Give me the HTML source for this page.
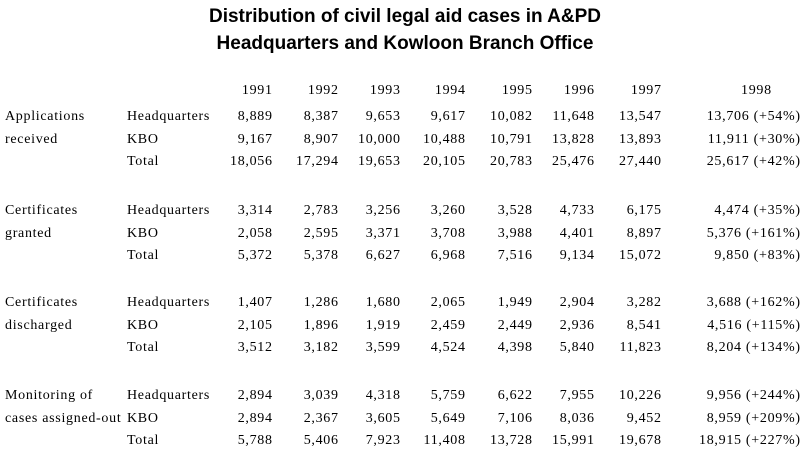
<!DOCTYPE html>
<html><head><style>
body{margin:0;width:810px;height:459px;background:#fff;position:relative;overflow:hidden}
.t{position:absolute;left:0;width:810px;text-align:center;font:bold 19px "Liberation Sans",sans-serif;color:#000}
.c{position:absolute;font:14px "Liberation Serif",serif;letter-spacing:0.7px;color:#000;white-space:nowrap;line-height:16px}
.r{text-align:right}
</style></head><body>
<div class="t" style="top:6px">Distribution of civil legal aid cases in A&amp;PD</div>
<div class="t" style="top:33px">Headquarters and Kowloon Branch Office</div>
<div id="g"></div>
<script>
var rights=[272,338,400,465,532,594,661,800];
var g=document.getElementById('g'),h='';
function cell(x,y,txt,right){if(right)x+=0.7;h+='<div class="c'+(right?' r':'')+'" style="'+(right?'right:'+(810-x):'left:'+x)+'px;top:'+(y-8)+'px">'+txt+'</div>';}
var yrs=['1991','1992','1993','1994','1995','1996','1997'];
for(var i=0;i<7;i++)cell(rights[i],91,yrs[i],1);
cell(741,91,'1998',0);
var blocks=[
[117,'Applications','received',[['8,889','8,387','9,653','9,617','10,082','11,648','13,547','13,706 (+54%)'],['9,167','8,907','10,000','10,488','10,791','13,828','13,893','11,911 (+30%)'],['18,056','17,294','19,653','20,105','20,783','25,476','27,440','25,617 (+42%)']]],
[211,'Certificates','granted',[['3,314','2,783','3,256','3,260','3,528','4,733','6,175','4,474 (+35%)'],['2,058','2,595','3,371','3,708','3,988','4,401','8,897','5,376 (+161%)'],['5,372','5,378','6,627','6,968','7,516','9,134','15,072','9,850 (+83%)']]],
[303,'Certificates','discharged',[['1,407','1,286','1,680','2,065','1,949','2,904','3,282','3,688 (+162%)'],['2,105','1,896','1,919','2,459','2,449','2,936','8,541','4,516 (+115%)'],['3,512','3,182','3,599','4,524','4,398','5,840','11,823','8,204 (+134%)']]],
[396,'Monitoring of','cases assigned-out',[['2,894','3,039','4,318','5,759','6,622','7,955','10,226','9,956 (+244%)'],['2,894','2,367','3,605','5,649','7,106','8,036','9,452','8,959 (+209%)'],['5,788','5,406','7,923','11,408','13,728','15,991','19,678','18,915 (+227%)']]]];
var subs=['Headquarters','KBO','Total'];
blocks.forEach(function(b){
 var y0=b[0];cell(5,y0,b[1]);cell(5,y0+22.5,b[2]);
 for(var r=0;r<3;r++){var y=y0+r*22.5;cell(127,y,subs[r]);
  for(var i=0;i<8;i++)cell(rights[i],y,b[3][r][i],1);}
});
g.innerHTML=h;
</script>
</body></html>
